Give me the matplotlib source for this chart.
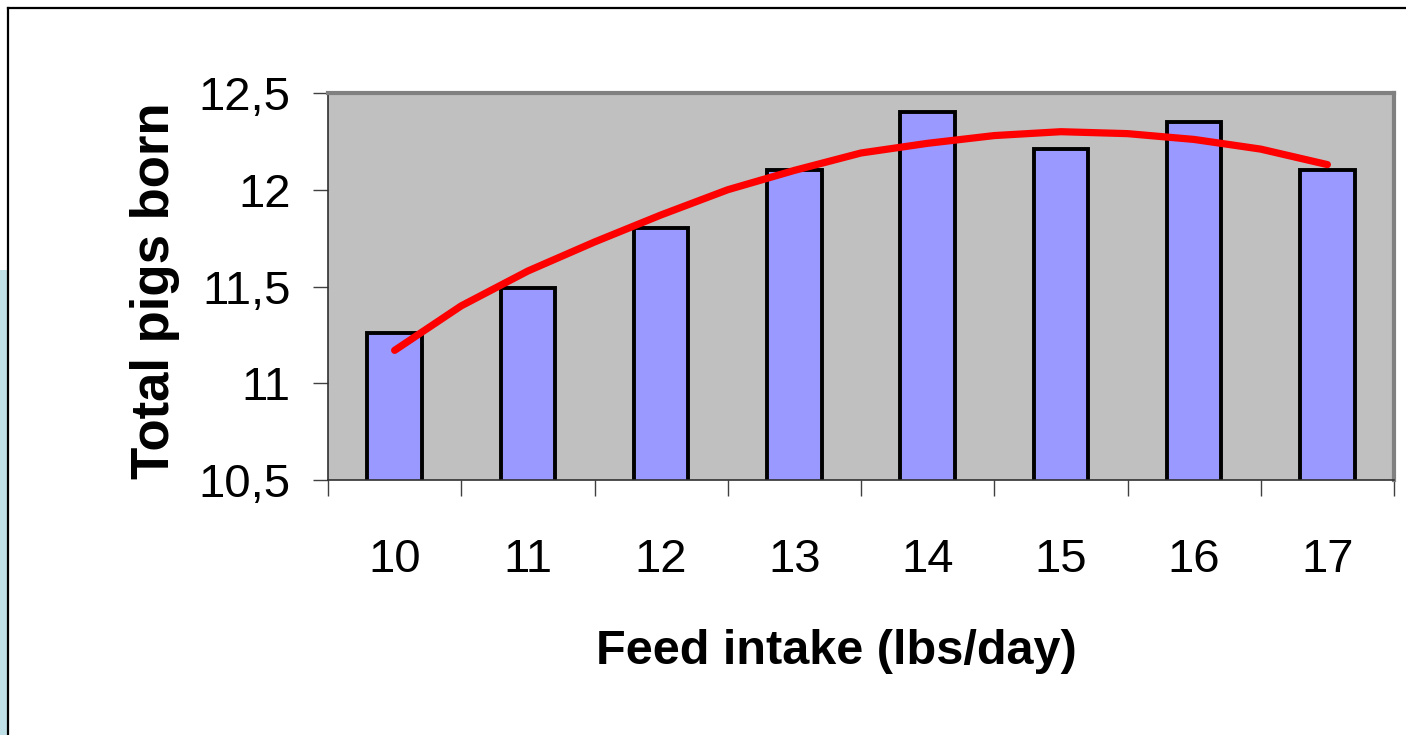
import matplotlib.pyplot as plt
from matplotlib.patches import Rectangle
from matplotlib.lines import Line2D
import numpy as np

# bar data
feed = [10, 11, 12, 13, 14, 15, 16, 17]
pigs = [11.26, 11.49, 11.80, 12.10, 12.40, 12.21, 12.35, 12.10]

# red trend line, read at half steps
trend_x = [10, 10.5, 11, 11.5, 12, 12.5, 13, 13.5, 14, 14.5, 15, 15.5, 16, 16.5, 17]
trend_y = [11.17, 11.40, 11.58, 11.73, 11.87, 12.00, 12.10, 12.19, 12.24, 12.28,
           12.30, 12.29, 12.26, 12.21, 12.13]

y_ticks = [10.5, 11, 11.5, 12, 12.5]
y_labels = ["10,5", "11", "11,5", "12", "12,5"]

plt.rcParams["font.family"] = ["Liberation Sans", "DejaVu Sans"]

W, H = 1406, 735
fig = plt.figure(figsize=(W / 100, H / 100), dpi=100)
fig.patch.set_facecolor("white")

# slide background strip on the left and the frame lines
fig.patches.append(Rectangle((0, 0), 8 / W, 1 - 270 / H, transform=fig.transFigure,
                             facecolor="#bfe0e6", edgecolor="none", zorder=0))
fig.lines.append(Line2D([8 / W, 1], [1 - 8 / H, 1 - 8 / H], transform=fig.transFigure,
                        color="black", lw=1.6))
fig.lines.append(Line2D([8 / W, 8 / W], [0, 1 - 8 / H], transform=fig.transFigure,
                        color="black", lw=1.6))

ax = fig.add_axes([328 / W, 1 - 480 / H, 1066 / W, 387 / H])
ax.set_facecolor("#c0c0c0")

ax.bar(feed, pigs, width=0.41, bottom=0, color="#9999ff", edgecolor="black",
       linewidth=2.8, zorder=2)
ax.plot(trend_x, trend_y, color="#ff0000", lw=5.2, solid_capstyle="round", zorder=3)

ax.set_xlim(9.5, 17.5)
ax.set_ylim(10.5, 12.5)

ax.set_yticks(y_ticks)
ax.set_yticklabels(y_labels)
ax.set_xticks(feed)
ax.set_xticklabels([str(f) for f in feed])
ax.set_xticks(np.arange(9.5, 18, 1), minor=True)

ax.tick_params(axis="y", direction="out", length=11, width=1, color="#404040",
               labelsize=34, pad=16)
ax.tick_params(axis="x", which="major", length=0, labelsize=34, pad=42)
ax.tick_params(axis="x", which="minor", direction="out", length=11.5, width=1,
               color="#404040")

for side in ["top", "right"]:
    ax.spines[side].set_color("#808080")
    ax.spines[side].set_linewidth(3)
ax.spines["left"].set_color("#303030")
ax.spines["left"].set_linewidth(1.2)
ax.spines["bottom"].set_color("#303030")
ax.spines["bottom"].set_linewidth(1.2)

ax.set_ylabel("Total pigs born", fontsize=38, fontweight="bold", va="center")
ax.yaxis.set_label_coords(-0.162, 0.49)
ax.set_xlabel("Feed intake (lbs/day)", fontsize=35, fontweight="bold", va="center")
ax.xaxis.set_label_coords(0.477, -0.444)

fig.savefig("out.png", dpi=100)
